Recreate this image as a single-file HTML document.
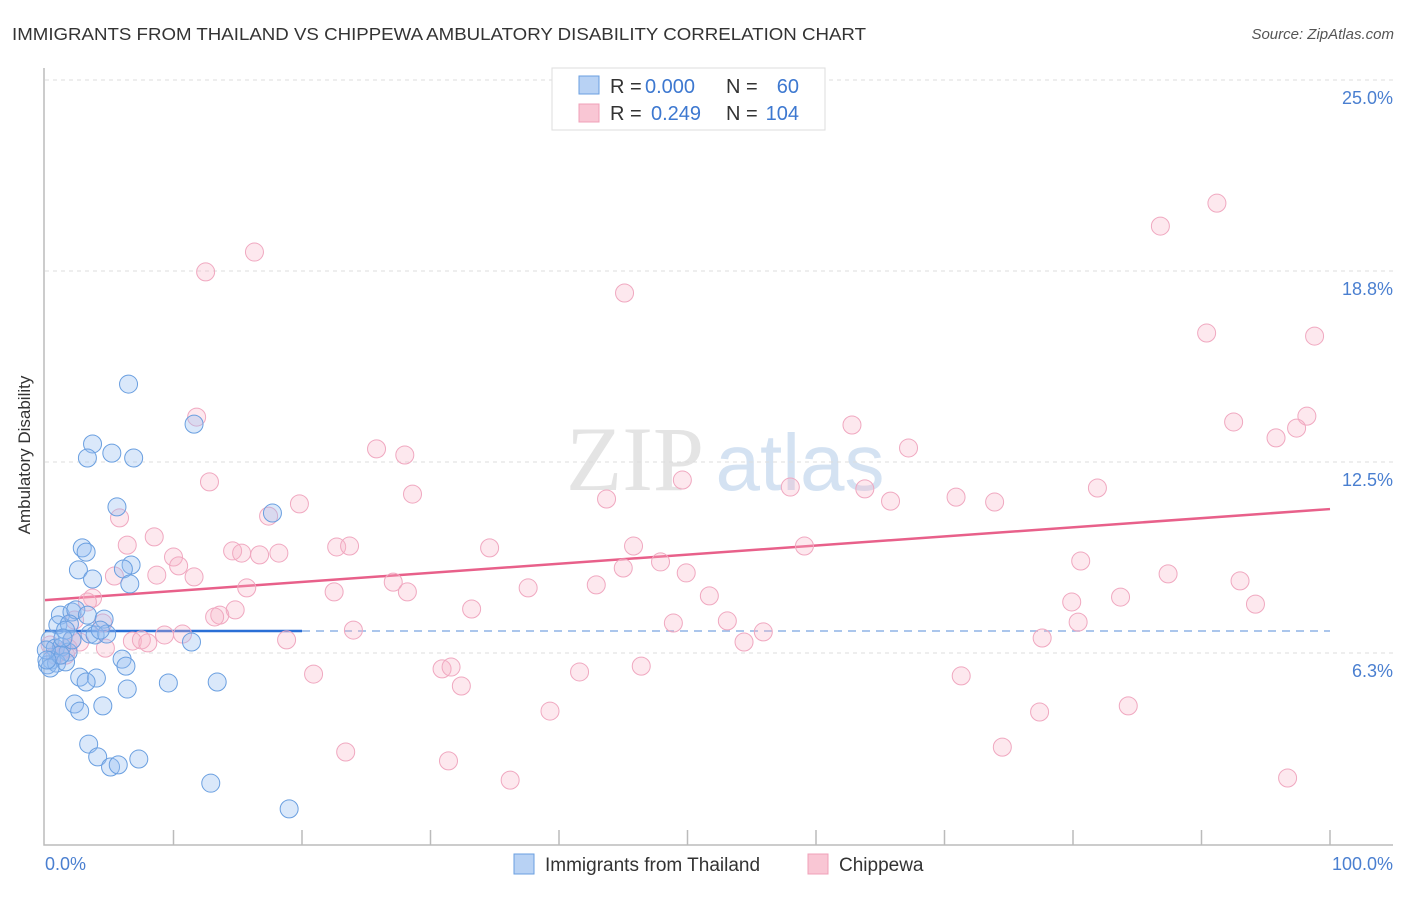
<!DOCTYPE html>
<html><head><meta charset="utf-8"><style>
body{margin:0;background:#fff;font-family:"Liberation Sans",sans-serif;}
</style></head><body>
<svg width="1406" height="892" xmlns="http://www.w3.org/2000/svg" font-family="Liberation Sans, sans-serif">
<text x="12" y="40" font-size="17.5" fill="#333" textLength="854" lengthAdjust="spacingAndGlyphs">IMMIGRANTS FROM THAILAND VS CHIPPEWA AMBULATORY DISABILITY CORRELATION CHART</text>
<text x="1394" y="39" font-size="15" fill="#555" text-anchor="end" font-style="italic">Source: ZipAtlas.com</text>
<g>
<text x="635" y="490" font-size="92" fill="#e4e4e4" text-anchor="middle" font-family="Liberation Serif, serif">ZIP</text>
<text x="800" y="490" font-size="80" fill="#d4e2f2" text-anchor="middle">atlas</text>
</g>
<g id="grid"></g><g id="axes"></g><g id="lines"></g><g id="pts"></g>
<text x="30" y="455" font-size="17" fill="#333" text-anchor="middle" transform="rotate(-90 30 455)">Ambulatory Disability</text>
<text x="45" y="870" font-size="18" fill="#4a7fd0">0.0%</text>
<text x="1393" y="870" font-size="18" fill="#4a7fd0" text-anchor="end">100.0%</text>
<g font-size="20">
<rect x="552" y="68" width="273" height="62" fill="#fff" stroke="#ddd"/>
<rect x="579" y="76" width="20" height="18" fill="#b8d2f4" stroke="#6a9fe0"/>
<rect x="579" y="104" width="20" height="18" fill="#f9c6d4" stroke="#f0a0b8"/>
<text x="610" y="93" fill="#333">R =</text>
<text x="645" y="93" fill="#3d78d0">0.000</text>
<text x="726" y="93" fill="#333">N =</text>
<text x="799" y="93" fill="#3d78d0" text-anchor="end">60</text>
<text x="610" y="120" fill="#333">R =</text>
<text x="651" y="120" fill="#3d78d0">0.249</text>
<text x="726" y="120" fill="#333">N =</text>
<text x="799" y="120" fill="#3d78d0" text-anchor="end">104</text>
</g>
<g>
<rect x="514" y="854" width="20" height="20" fill="#b8d2f4" stroke="#6a9fe0"/>
<text x="545" y="871" font-size="19" fill="#333">Immigrants from Thailand</text>
<rect x="808" y="854" width="20" height="20" fill="#f9c6d4" stroke="#f0a0b8"/>
<text x="839" y="871" font-size="19" fill="#333">Chippewa</text>
</g>
</svg>
<script>
const yTicks=[6.25,12.5,18.75,25];
const yTickLabels=["6.3%","12.5%","18.8%","25.0%"];
const blueX=[6.5,3.7,3.3,5.2,6.9,11.6,5.6,17.7,2.9,3.2,2.6,3.7,6.7,6.1,6.6,1.2,2.1,2.4,3.3,4.6,1.0,1.9,1.6,3.5,3.9,4.8,11.4,0.4,0.8,1.3,1.8,0.5,0.2,0.9,1.6,6.0,6.3,2.7,4.0,3.2,9.6,13.4,6.4,2.3,2.7,4.5,3.4,4.1,5.1,5.7,7.3,12.9,19.0,0.4,1.2,2.1,0.1,0.15,4.3,1.4];
const blueY=[15.05,13.09,12.63,12.79,12.63,13.74,11.03,10.83,9.69,9.55,8.97,8.67,9.13,9.0,8.51,7.49,7.59,7.66,7.49,7.36,7.17,7.2,7.0,6.87,6.84,6.87,6.61,6.68,6.41,6.45,6.28,6.02,5.86,5.92,5.96,6.05,5.82,5.46,5.43,5.3,5.27,5.3,5.07,4.58,4.35,4.52,3.27,2.85,2.52,2.59,2.78,1.99,1.15,5.76,6.18,6.68,6.35,6.02,7.0,6.74];
const pinkX=[16.3,12.5,45.1,86.8,91.2,90.4,98.8,11.8,62.8,92.5,98.2,97.4,95.8,25.8,28.0,67.2,12.8,49.6,28.6,43.7,58.0,63.8,70.9,73.9,81.9,65.8,19.8,17.4,5.8,8.5,6.4,14.6,15.3,16.7,18.2,22.7,23.7,34.6,45.8,59.1,10.0,10.4,11.6,8.7,5.4,15.7,22.5,27.1,28.2,37.6,42.9,45.0,47.9,49.9,80.6,87.4,93.0,3.7,3.3,51.7,83.7,79.9,94.2,33.2,14.8,13.6,13.2,4.5,2.3,24.0,48.9,53.1,80.4,55.9,10.7,9.3,6.8,7.5,8.0,18.8,54.4,77.6,4.7,2.1,1.2,0.4,1.6,30.9,31.6,46.4,41.6,20.9,32.4,71.3,39.3,77.4,84.3,23.4,31.4,74.5,36.2,96.7,0.8,1.8,2.7];
const pinkY=[19.37,18.72,18.03,20.22,20.97,16.72,16.62,13.97,13.71,13.81,14.0,13.61,13.29,12.93,12.73,12.96,11.85,11.91,11.45,11.29,11.68,11.62,11.35,11.19,11.65,11.22,11.13,10.73,10.67,10.05,9.78,9.59,9.52,9.46,9.52,9.72,9.75,9.69,9.75,9.75,9.39,9.1,8.74,8.8,8.77,8.38,8.25,8.57,8.25,8.38,8.48,9.03,9.23,8.87,9.26,8.84,8.61,8.05,7.92,8.12,8.08,7.92,7.85,7.69,7.66,7.49,7.43,7.23,7.33,7.0,7.23,7.3,7.26,6.94,6.87,6.84,6.64,6.68,6.58,6.68,6.61,6.74,6.41,6.68,6.28,6.51,6.18,5.73,5.79,5.82,5.63,5.56,5.17,5.5,4.35,4.32,4.52,3.01,2.72,3.17,2.09,2.16,6.18,6.41,6.61];
const blueTrend=[6.97,6.97];
const pinkTrend=[7.98,10.96];
const NS="http://www.w3.org/2000/svg";
const sx=v=>45+v*12.85, sy=v=>844-v*30.56;
function mk(p,tag,at){const e=document.createElementNS(NS,tag);for(const k in at)e.setAttribute(k,at[k]);document.getElementById(p).appendChild(e);return e;}
yTicks.forEach((t,i)=>{
 const g=mk('grid','line',{x1:45,x2:1393,y1:sy(t),y2:sy(t),stroke:'#ddd','stroke-dasharray':'4,4'});
 
 
 const l=mk('grid','text',{x:1393,y:sy(t)+24,'text-anchor':'end','font-size':18,fill:'#4a7fd0'});
 l.textContent=yTickLabels[i];
 
 
});
const ax=mk('axes','path',{d:'M44 68V845H1393',fill:'none',stroke:'#bbb','stroke-width':1.5});


for(let i=1;i<=10;i++){const t=mk('axes','line',{x1:sx(i*10),x2:sx(i*10),y1:830,y2:845,stroke:'#bbb','stroke-width':1.5});
 
 }
const bd=mk('lines','line',{x1:sx(20),x2:sx(100),y1:sy(blueTrend[0]),y2:sy(blueTrend[1]),stroke:'#8fb4e6','stroke-width':1.5,'stroke-dasharray':'8,6'});


const bs=mk('lines','line',{x1:sx(0),x2:sx(20),y1:sy(blueTrend[0]),y2:sy(blueTrend[1]),stroke:'#2a6fd6','stroke-width':2.5});


const pl=mk('lines','line',{x1:sx(0),x2:sx(100),y1:sy(pinkTrend[0]),y2:sy(pinkTrend[1]),stroke:'#e8608a','stroke-width':2.5});


pinkX.forEach((x,i)=>{const c=mk('pts','circle',{cx:sx(x),cy:sy(pinkY[i]),r:9,fill:'rgba(248,180,200,0.3)',stroke:'#f0a8c0','stroke-width':1});
 
 });
blueX.forEach((x,i)=>{const c=mk('pts','circle',{cx:sx(x),cy:sy(blueY[i]),r:9,fill:'rgba(150,190,240,0.35)',stroke:'#6a9fe0','stroke-width':1});
 
 });
</script>
</body></html>
